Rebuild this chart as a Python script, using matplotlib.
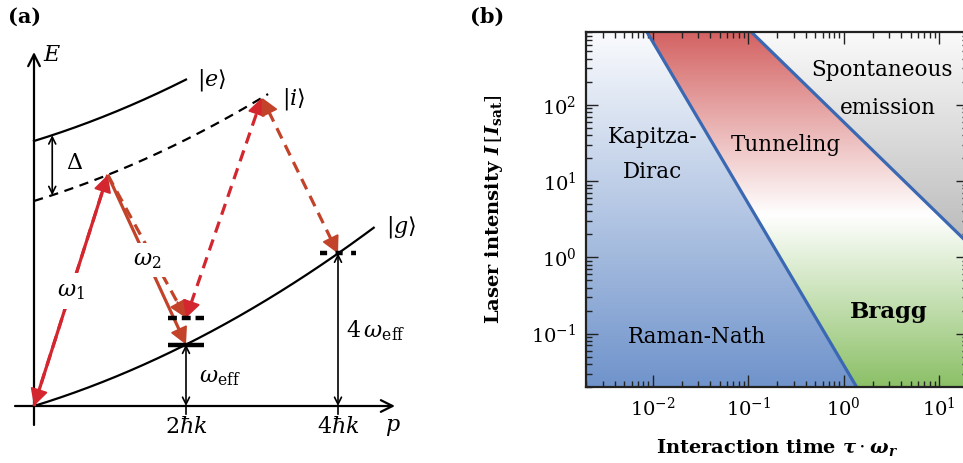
import numpy as np
import matplotlib
matplotlib.use('Agg')
import matplotlib.pyplot as plt
from matplotlib.colors import to_rgb

plt.rcParams['font.family'] = ['DejaVu Serif']
plt.rcParams['mathtext.fontset'] = 'dejavuserif'

# ---------------- panel (a): schematic energy diagram ----------------
g_lin, g_quad = 2.33, 0.371          # E_g(p) = g_lin*p + g_quad*p^2
e_offset = 26.5                      # |e> above |g>
i_offset = 20.5                      # |i> above |g>
p_g_end, p_e_end, p_i_end = 4.47, 2.0, 3.08
peak1_p, peak2_p = 0.97, 3.0         # where the Raman beams touch |i>
mark2_E = 8.8                        # detuned level at 2hk
momentum_ticks = [2, 4]
momentum_labels = [r'$2\hbar k$', r'$4\hbar k$']
delta_p = 0.24

# ---------------- panel (b): regime diagram ----------------
tau_lim = [2e-3, 20]
I_lim = [0.02, 900]
rn_boundary_tau = [0.00893, 1.38]    # Raman-Nath / Bragg boundary
rn_boundary_I = [851, 0.0195]
se_boundary_tau = [0.1127, 17.8]     # spontaneous-emission boundary
se_boundary_I = [851, 1.77]
region_labels = ['Spontaneous', 'emission', 'Kapitza-', 'Dirac', 'Tunneling', 'Raman-Nath', 'Bragg']
region_tau = [2.52, 2.91, 0.00995, 0.00995, 0.249, 0.0294, 2.98]
region_I = [240, 75.5, 32, 11.1, 24.9, 0.076, 0.162]

RED1 = '#d3262e'
RED2 = '#c2432a'

fig = plt.figure(figsize=(9.63, 4.63), dpi=100)

# ===================== panel (a) =====================
axA = fig.add_axes([0, 0, 440 / 963, 1])
axA.set_xlim(-34 / 76, (440 - 34) / 76)
axA.set_ylim(-5.7, 40.6)
axA.axis('off')


def Eg(p):
    p = np.asarray(p, dtype=float)
    return g_lin * p + g_quad * p ** 2


def disp_len(p0, p1):
    d0 = axA.transData.transform(p0)
    d1 = axA.transData.transform(p1)
    return np.hypot(*(d1 - d0))


def red_arrow(p0, p1, color, dashed=False, head_end=True, head_start=False, lw=2.3, z=3):
    p0 = np.array(p0, float)
    p1 = np.array(p1, float)
    L = disp_len(p0, p1)
    hs = 'head_length=0.8,head_width=0.42'
    ms = 13
    frac = 15.0 / L
    a = p0 + (frac * (p1 - p0) if head_start else 0)
    b = p1 - (frac * (p1 - p0) if head_end else 0)
    ls = (0, (3.6, 2.3)) if dashed else '-'
    axA.plot([a[0], b[0]], [a[1], b[1]], color=color, lw=lw, ls=ls,
             solid_capstyle='butt', dash_capstyle='butt', zorder=z)
    if head_end:
        axA.annotate('', xy=p1, xytext=p1 - 1.2 * frac * (p1 - p0),
                     arrowprops=dict(arrowstyle='-|>,' + hs, mutation_scale=ms,
                                     color=color, lw=lw * 0.6, shrinkA=0, shrinkB=0),
                     zorder=z)
    if head_start:
        axA.annotate('', xy=p0, xytext=p0 + 1.2 * frac * (p1 - p0),
                     arrowprops=dict(arrowstyle='-|>,' + hs, mutation_scale=ms,
                                     color=color, lw=lw * 0.6, shrinkA=0, shrinkB=0),
                     zorder=z)


# axes of the diagram
axA.annotate('', xy=(0, 35.4), xytext=(0, -1.9),
             arrowprops=dict(arrowstyle='->,head_length=0.6,head_width=0.3', lw=1.6,
                             color='black', shrinkA=0, shrinkB=0, mutation_scale=14))
axA.annotate('', xy=(4.75, 0), xytext=(-0.25, 0),
             arrowprops=dict(arrowstyle='->,head_length=0.6,head_width=0.3', lw=1.6,
                             color='black', shrinkA=0, shrinkB=0, mutation_scale=14))
axA.text(0.24, 35.1, '$E$', fontsize=16, ha='center', va='center')
axA.text(4.72, -2.1, '$p$', fontsize=16, ha='center', va='center')

# dispersion curves
pg = np.linspace(0, p_g_end, 200)
axA.plot(pg, Eg(pg), color='black', lw=1.6, zorder=2)
pe = np.linspace(0, p_e_end, 200)
axA.plot(pe, e_offset + Eg(pe), color='black', lw=1.6, zorder=2)
pi_ = np.linspace(0, p_i_end, 200)
axA.plot(pi_, i_offset + Eg(pi_), color='black', lw=1.6, ls=(0, (4.2, 3)), zorder=2)

axA.text(2.34, 32.6, r'$|e\rangle$', fontsize=16, ha='center', va='center')
axA.text(3.41, 30.7, r'$|i\rangle$', fontsize=16, ha='center', va='center')
axA.text(4.83, 17.9, r'$|g\rangle$', fontsize=16, ha='center', va='center')

# Delta
axA.annotate('', xy=(delta_p, e_offset + Eg(delta_p)), xytext=(delta_p, i_offset + Eg(delta_p)),
             arrowprops=dict(arrowstyle='<->,head_length=0.5,head_width=0.25', lw=1.2,
                             color='black', shrinkA=0, shrinkB=0, mutation_scale=10))
axA.text(0.53, 24.3, r'$\Delta$', fontsize=16, ha='center', va='center')

# momentum ticks, energy arrows
for pt, lab in zip(momentum_ticks, momentum_labels):
    axA.plot([pt, pt], [0, -0.8], color='black', lw=1.2)
    axA.annotate('', xy=(pt, Eg(pt)), xytext=(pt, 0),
                 arrowprops=dict(arrowstyle='<->,head_length=0.5,head_width=0.25', lw=1.2,
                                 color='black', shrinkA=0, shrinkB=0, mutation_scale=10))
    axA.text(pt, -2.1, lab, fontsize=16, ha='center', va='center')

axA.text(2.17, 2.9, r'$\omega_{\mathrm{eff}}$', fontsize=16, ha='left', va='center')
axA.text(4.11, 7.5, r'$4\,\omega_{\mathrm{eff}}$', fontsize=16, ha='left', va='center')

# level marks
axA.plot([1.76, 2.24], [Eg(2), Eg(2)], color='black', lw=3.2, solid_capstyle='butt', zorder=4)
axA.plot([1.76, 2.24], [mark2_E, mark2_E], color='black', lw=3.2, ls=(0, (2.0, 1.1)), zorder=4)
axA.plot([3.76, 4.24], [Eg(4), Eg(4)], color='black', lw=3.2, ls=(0, (1.6, 1.9)), zorder=4)

# Raman transitions
pk1 = (peak1_p, i_offset + Eg(peak1_p))
pk2 = (peak2_p, i_offset + Eg(peak2_p))
org = (0.0, 0.0)
g2 = (2.0, Eg(2))
m2 = (2.0, mark2_E)
m4 = (4.0, Eg(4))

red_arrow(pk1, org, RED1, dashed=True, head_end=True)
red_arrow(org, pk1, RED1, dashed=False, head_end=True)
red_arrow(pk1, m2, RED2, dashed=True, head_end=True)
red_arrow(pk1, g2, RED2, dashed=False, head_end=True)
red_arrow(m2, pk2, RED1, dashed=True, head_end=True, head_start=True)
red_arrow(pk2, m4, RED2, dashed=True, head_end=True, head_start=True)

axA.text(0.49, 11.5, r'$\omega_1$', fontsize=16, ha='center', va='center', zorder=6,
         bbox=dict(fc='white', ec='none', pad=5))
axA.text(1.49, 14.6, r'$\omega_2$', fontsize=16, ha='center', va='center', zorder=6,
         bbox=dict(fc='white', ec='none', pad=4))

fig.text(8 / 963, 1 - 17 / 463, '(a)', fontsize=15, fontweight='bold', va='center', ha='left')
fig.text(470 / 963, 1 - 17 / 463, '(b)', fontsize=15, fontweight='bold', va='center', ha='left')

# ===================== panel (b) =====================
axB = fig.add_axes([586 / 963, 76 / 463, 382 / 963, 355 / 463])
axB.set_xscale('log')
axB.set_yscale('log')
axB.set_xlim(tau_lim)
axB.set_ylim(I_lim)

lx0, lx1 = np.log10(tau_lim)
ly0, ly1 = np.log10(I_lim)


def line_fn(taus, Is):
    lt = np.log10(taus)
    li = np.log10(Is)
    s = (li[1] - li[0]) / (lt[1] - lt[0])
    return lambda x: li[0] + s * (x - lt[0])


L1 = line_fn(rn_boundary_tau, rn_boundary_I)
L2 = line_fn(se_boundary_tau, se_boundary_I)

N = 900
fx = (np.arange(N) + 0.5) / N
fy = (np.arange(N) + 0.5) / N
FX, FY = np.meshgrid(fx, fy)
LT = lx0 + FX * (lx1 - lx0)
LI = ly0 + FY * (ly1 - ly0)


def lerp(c0, c1, t):
    c0 = np.array(to_rgb(c0))
    c1 = np.array(to_rgb(c1))
    t = np.clip(t, 0, 1)[..., None]
    return c0 + (c1 - c0) * t


tdown = 1 - FY
blue = lerp('#fafbfd', '#6f93cb', tdown)
gray = lerp('#fafafa', '#8f8f8f', tdown)
wf = 0.485
redc = lerp('#ffffff', '#d46262', (FY - wf) / (1 - wf))
greenc = lerp('#ffffff', '#8bc066', (wf - FY) / wf)
mid = np.where((FY >= wf)[..., None], redc, greenc)

img = np.where((LI < L1(LT))[..., None], blue,
               np.where((LI > L2(LT))[..., None], gray, mid))
axB.imshow(img, extent=[0, 1, 0, 1], transform=axB.transAxes, origin='lower',
           aspect='auto', interpolation='bilinear', zorder=0)

tt = np.logspace(-4, 3, 50)
axB.plot(tt, 10 ** L1(np.log10(tt)), color='#3b68b2', lw=2.3, zorder=2)
axB.plot(tt, 10 ** L2(np.log10(tt)), color='#3b68b2', lw=2.3, zorder=2)
axB.set_xlim(tau_lim)
axB.set_ylim(I_lim)

for lab, t, I in zip(region_labels, region_tau, region_I):
    bold = lab == 'Bragg'
    axB.text(t, I, lab, ha='center', va='baseline',
             fontsize=16.5 if bold else 15.5, fontweight='bold' if bold else 'normal', zorder=3)

for s in axB.spines.values():
    s.set_linewidth(1.6)
    s.set_color('#222222')
    s.set_zorder(5)
axB.tick_params(which='both', direction='in', top=True, right=True, labelsize=14, width=1,
                color='#222222')
axB.tick_params(which='major', length=8.6, pad=7)
axB.tick_params(which='minor', length=4.3)

axB.set_xlabel(r'Interaction time $\mathbfit{\tau}\cdot\mathbfit{\omega}_{\mathbfit{r}}$',
               fontsize=14, fontweight='bold')
axB.set_ylabel(r'Laser intensity $\mathbfit{I}\,[\mathbfit{I}_{\mathbf{sat}}]$',
               fontsize=14, fontweight='bold')
axB.xaxis.set_label_coords(0.5, -0.141)
axB.yaxis.set_label_coords(-0.212, 0.5)

fig.savefig('out.png', dpi=100)
